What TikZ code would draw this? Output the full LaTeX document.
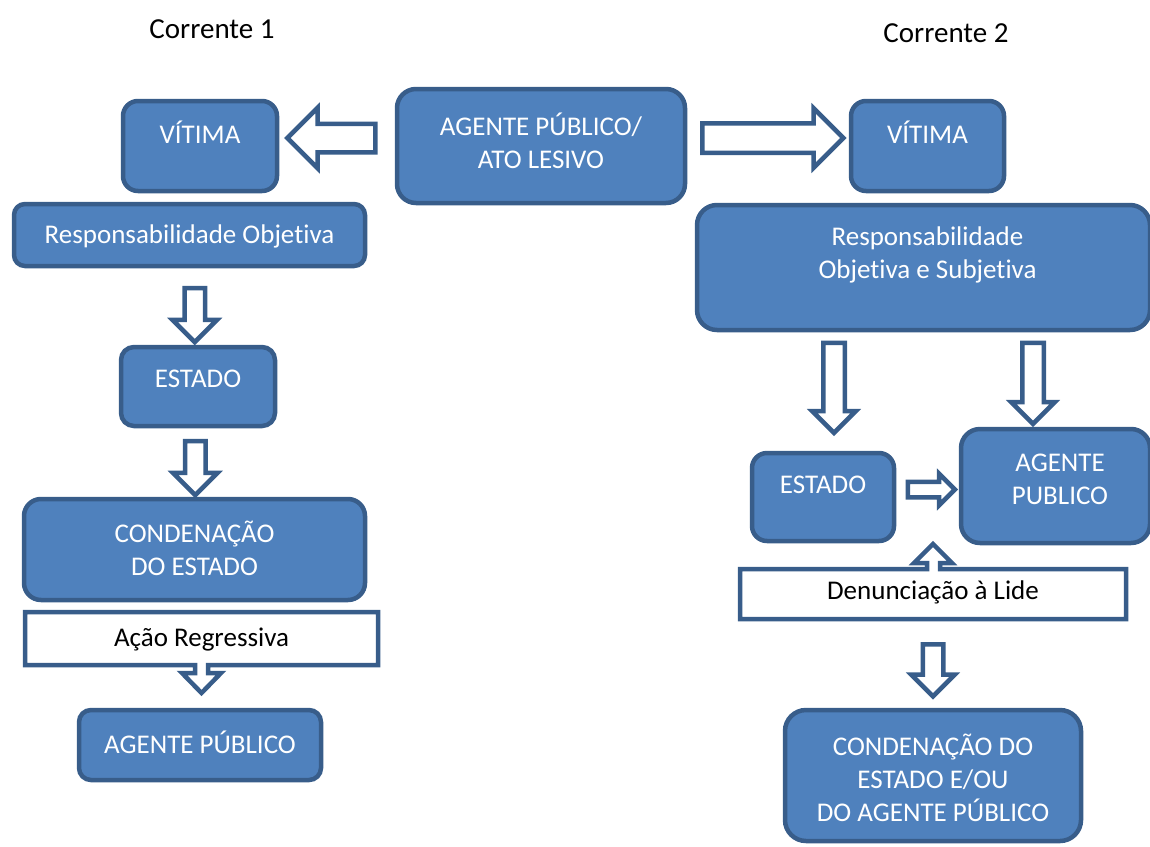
\documentclass[tikz,border=0pt]{standalone}
\usepackage{fontspec}
\setmainfont{Carlito}[Ligatures=NoCommon]
\usetikzlibrary{shapes.arrows, calc}
\definecolor{boxblue}{RGB}{79,129,189}
\definecolor{lineblue}{RGB}{56,93,138}

\begin{document}
\begin{tikzpicture}[x=1pt, y=-1pt,
    box/.style={draw=lineblue, line width=4.5pt, fill=boxblue, rounded corners=#1, inner sep=0pt},
    box/.default=15pt,
    boxtext/.style={text=white, font=\fontsize{27}{33}\selectfont, align=center, inner sep=0pt},
    plaintext/.style={text=black, font=\fontsize{27}{33}\selectfont, inner sep=0pt},
    blkarrow/.style={single arrow, draw=lineblue, fill=white, line width=4.5pt,
        inner xsep=0pt, inner ysep=8pt, text height=0pt, text depth=0pt,
        minimum width=40pt, single arrow head extend=12pt},
    callout/.style={draw=lineblue, fill=white, line width=4.5pt}]
    \useasboundingbox (0,0) rectangle (1150,846);
    \clip (0,0) rectangle (1150,846);

    % titles
    \node[plaintext, font=\fontsize{29}{35}\selectfont] (corr1) at (212,29) {Corrente 1};
    \node[plaintext, font=\fontsize{29}{35}\selectfont] (corr2) at (946,33) {Corrente 2};

    % top row
    \node[box=19pt, minimum width=288pt, minimum height=114pt] (ato) at (541,146) {};
    \node[boxtext] (atot) at ([yshift=5pt]ato.center) {AGENTE PÚBLICO/\\ATO LESIVO};
    \node[box, minimum width=154pt, minimum height=90pt] (vit1) at (200,146) {};
    \node[boxtext] (vit1t) at ([yshift=14pt]vit1.center) {VÍTIMA};
    \node[box, minimum width=153pt, minimum height=90pt] (vit2) at (927.5,146) {};
    \node[boxtext] (vit2t) at ([yshift=14pt]vit2.center) {VÍTIMA};

    \node[blkarrow, rotate=180, minimum height=88pt, inner ysep=12pt, minimum width=56pt, single arrow head extend=16pt]
        (arrl) at ($(ato.west)!.5!(vit1.east)+(1.5,-8)$) {};
    \node[blkarrow, minimum height=141pt, inner ysep=12.5pt, minimum width=55pt, single arrow head extend=15pt]
        (arrr) at ($(ato.east)!.5!(vit2.west)+(-2.5,-8)$) {};

    % Corrente 1
    \node[box=11pt, minimum width=351pt, minimum height=62pt] (resp1) at (189.5,235) {};
    \node[boxtext] (resp1t) at ([yshift=-1pt]resp1.center) {Responsabilidade Objetiva};
    \node[box=13pt, minimum width=154pt, minimum height=79pt] (est1) at (198,386.5) {};
    \node[boxtext] (est1t) at ([yshift=7.5pt]est1.center) {ESTADO};
    \node[box=17pt, minimum width=341pt, minimum height=101pt] (cond1) at (194.5,549.5) {};
    \node[boxtext] (cond1t) at ([yshift=1pt]cond1.center) {CONDENAÇÃO\\DO ESTADO};
    \node[box=12pt, minimum width=242pt, minimum height=70pt] (ag1) at (200,745) {};
    \node[boxtext] (ag1t) at ([yshift=3pt]ag1.center) {AGENTE PÚBLICO};

    \node[blkarrow, rotate=-90, minimum height=54pt] (arr1) at ($(resp1.south)!.5!(est1.north)+(1,3.5)$) {};
    \node[blkarrow, rotate=-90, minimum height=54pt] (arr2) at ($(est1.south)!.5!(cond1.north)+(-1,0.5)$) {};

    \draw[callout] (25,612) -- (378,612) -- (378,665) -- (208,665) -- (208,673) -- (221,673)
        -- (201.5,693) -- (182,673) -- (195,673) -- (195,665) -- (25,665) -- cycle;
    \node[plaintext] (acao) at (201.5,640) {Ação Regressiva};

    % Corrente 2
    \node[box=20pt, minimum width=453pt, minimum height=125pt] (resp2) at (923.5,267.5) {};
    \node[boxtext] (resp2t) at ([xshift=4pt,yshift=12.5pt]resp2.center) {Responsabilidade\\Objetiva e Subjetiva};
    \node[box, minimum width=142pt, minimum height=88pt] (est2) at (823,497) {};
    \node[boxtext] (est2t) at ([yshift=12pt]est2.center) {ESTADO};
    \node[box=19pt, minimum width=189pt, minimum height=114pt] (ag2) at (1055.5,486) {};
    \node[boxtext] (ag2t) at ([xshift=4.5pt,yshift=7pt]ag2.center) {AGENTE\\PUBLICO};
    \node[box=21pt, minimum width=296pt, minimum height=131pt] (cond2) at (933,775.5) {};
    \node[boxtext] (cond2t) at ([yshift=-2.5pt]cond2.center) {CONDENAÇÃO DO\\ESTADO E/OU\\DO AGENTE PÚBLICO};

    \node[blkarrow, rotate=-90, minimum height=90pt, inner ysep=8.5pt, minimum width=39pt, single arrow head extend=11pt]
        (arr3) at ($(resp2.south -| est2.north)!.5!(est2.north)+(11,-9)$) {};
    \node[blkarrow, rotate=-90, minimum height=81pt, inner ysep=8.5pt, minimum width=39pt, single arrow head extend=11pt]
        (arr4) at ($(resp2.south -| ag2.north)!.5!(ag2.north)+(-22.5,-1.5)$) {};
    \node[blkarrow, minimum height=47pt, inner ysep=5.5pt, minimum width=27pt, single arrow head extend=8pt]
        (arr5) at ($(est2.east)!.5!(ag2.west)+(0,-2)$) {};

    \draw[callout] (740,569) -- (927,569) -- (927,563) -- (914,563) -- (933,544) -- (952,563)
        -- (940,563) -- (940,569) -- (1126,569) -- (1126,619) -- (740,619) -- cycle;
    \node[plaintext] (denun) at (933,592) {Denunciação à Lide};

    \node[blkarrow, rotate=-90, minimum height=52pt, minimum width=39pt, single arrow head extend=11.5pt]
        (arr6) at ($(cond2.north)+(0,-42.5)$) {};
\end{tikzpicture}
\end{document}
